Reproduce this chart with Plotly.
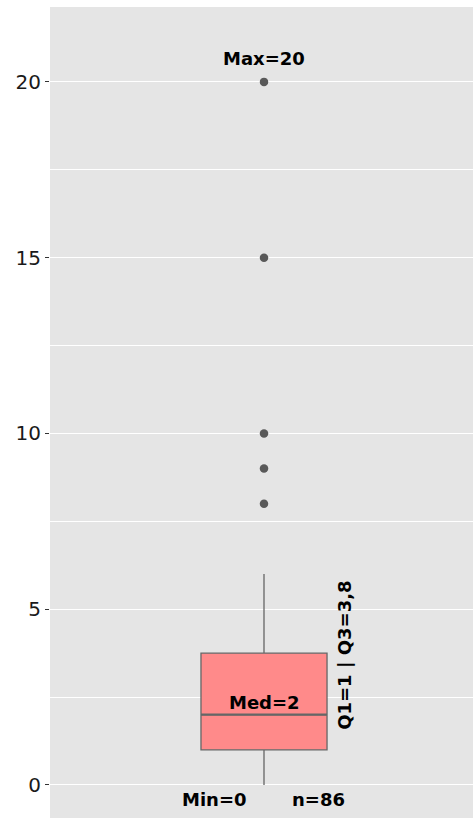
import plotly.graph_objects as go

# Data
q1 = 1
median = 2
q3 = 3.75
lower_fence = 0
upper_fence = 6
outliers = [8, 9, 10, 15, 20]
n_obs = 86
y_ticks = [0, 5, 10, 15, 20]

label_max = "Max=20"
label_med = "Med=2"
label_min = "Min=0"
label_n = "n=86"
label_q = "Q1=1 | Q3=3,8"

FONT = "DejaVu Sans"
box_w = 0.589

fig = go.Figure()
fig.add_trace(go.Box(
    x=[0], q1=[q1], median=[median], q3=[q3],
    lowerfence=[lower_fence], upperfence=[upper_fence],
    width=box_w, whiskerwidth=0,
    fillcolor="#FF8A8A", line=dict(color="#666666", width=1.3),
    boxpoints=False, showlegend=False, hoverinfo="skip",
))
# thicker median line
fig.add_trace(go.Scatter(
    x=[-box_w / 2, box_w / 2], y=[median, median], mode="lines",
    line=dict(color="#666666", width=2.4), showlegend=False, hoverinfo="skip",
))
fig.add_trace(go.Scatter(
    x=[0] * len(outliers), y=outliers, mode="markers",
    marker=dict(color="#595959", size=8.5), showlegend=False, hoverinfo="skip",
))

tfont = dict(family=FONT, size=18, color="black", weight="bold")
fig.add_annotation(x=0, y=max(outliers), text=label_max, showarrow=False,
                   yshift=23, font=tfont)
fig.add_annotation(x=0, y=median, text=label_med, showarrow=False,
                   yshift=12, font=tfont)
fig.add_annotation(x=-0.23, y=lower_fence, text=label_min, showarrow=False,
                   yshift=-15, font=tfont)
fig.add_annotation(x=0.255, y=lower_fence, text=label_n, showarrow=False,
                   yshift=-15, font=tfont)
fig.add_annotation(x=box_w / 2, y=(q1 + q3) / 2 + 1.3, text=label_q, showarrow=False,
                   xshift=18, textangle=-90, font=tfont)

fig.update_layout(
    width=473, height=818,
    margin=dict(l=50, r=0, t=7, b=0, autoexpand=False),
    paper_bgcolor="white", plot_bgcolor="#E5E5E5",
    xaxis=dict(range=[-1, 0.9766], showgrid=False, zeroline=False,
               showticklabels=False, ticks="", automargin=False),
    yaxis=dict(range=[-0.94, 22.13], tickvals=y_ticks, ticktext=[str(v) for v in y_ticks],
               showgrid=True, gridcolor="white", gridwidth=1.4, zeroline=False,
               automargin=False,
               ticks="outside", ticklen=4, tickcolor="#333333", tickwidth=1,
               tickfont=dict(family=FONT, size=20, color="#1a1a1a"),
               minor=dict(dtick=2.5, tick0=0, showgrid=True, gridcolor="white",
                          gridwidth=0.7, ticks="")),
)
fig.write_html("out.html", config={"displayModeBar": False},
               post_script="document.body.style.margin='0';document.body.style.overflow='hidden';")
